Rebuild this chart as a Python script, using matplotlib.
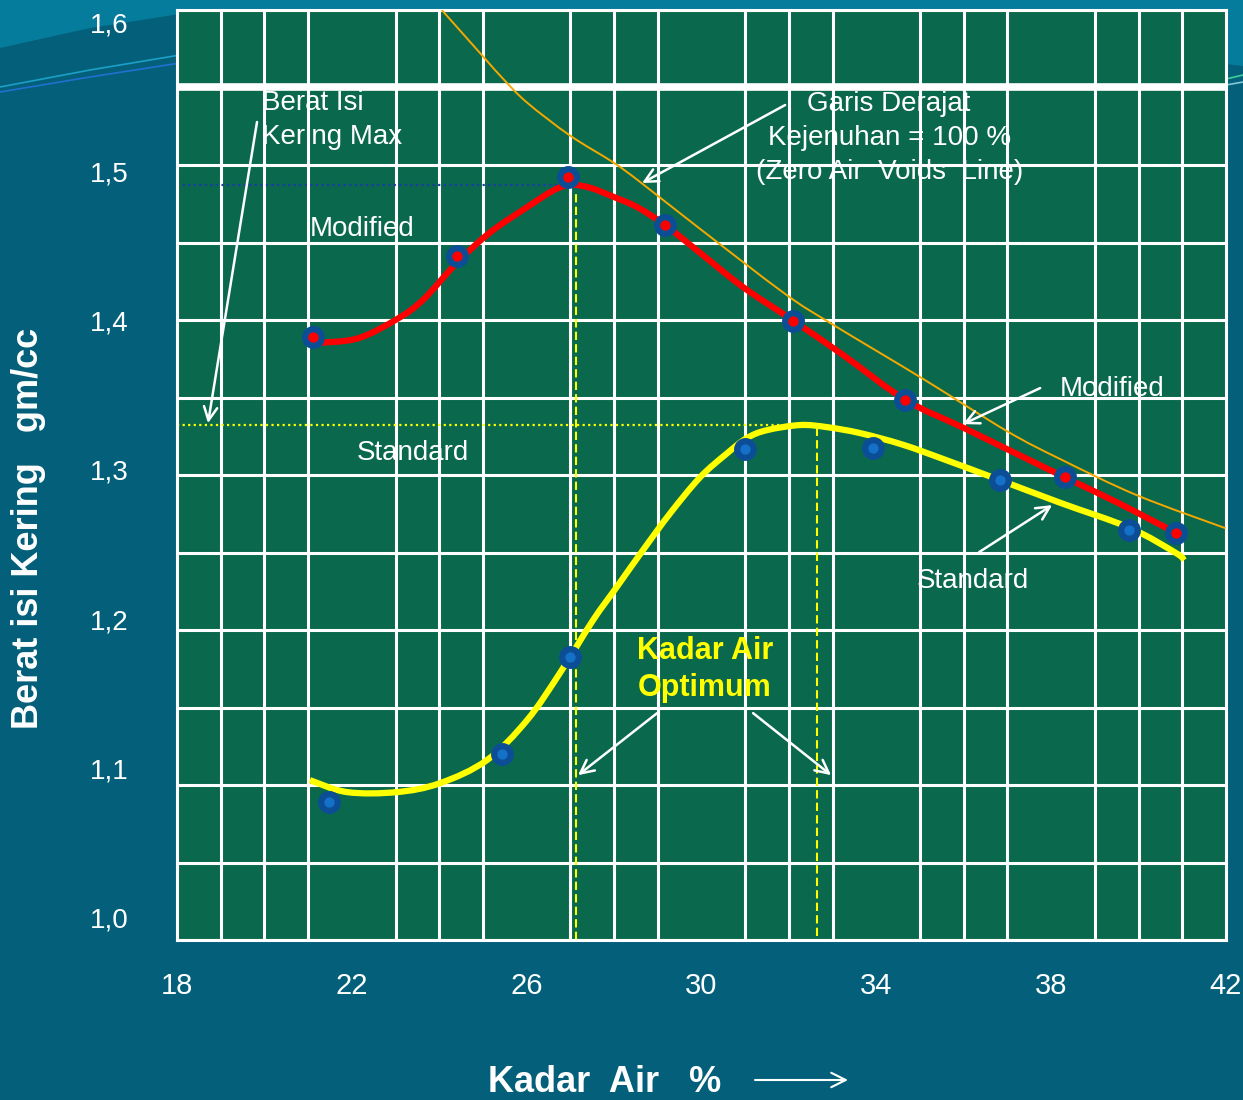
import numpy as np
import matplotlib
matplotlib.use("Agg")
import matplotlib.pyplot as plt
from matplotlib import font_manager
from matplotlib.lines import Line2D
from matplotlib.patches import Polygon, PathPatch
from matplotlib.path import Path

# ---------------- data ----------------
# Modified compaction: measured points
mod_x = [21.11, 24.41, 26.95, 29.17, 32.10, 34.66, 38.32, 40.86]
mod_y = [1.389, 1.443, 1.496, 1.464, 1.400, 1.347, 1.295, 1.258]
# Modified compaction: drawn curve
mod_curve_x = [21.11, 22.12, 23.03, 23.63, 24.41, 25.16, 26.01, 26.60, 26.99, 27.45,
               27.98, 28.53, 29.17, 29.90, 30.95, 32.10, 33.24, 34.66, 35.94, 36.99,
               38.32, 39.53, 40.86, 41.05]
mod_curve_y = [1.385, 1.388, 1.401, 1.414, 1.439, 1.459, 1.476, 1.487, 1.491, 1.489,
               1.483, 1.476, 1.464, 1.447, 1.4225, 1.400, 1.377, 1.347, 1.329, 1.314,
               1.295, 1.278, 1.258, 1.257]

# Standard compaction: measured points
std_x = [21.48, 25.44, 26.99, 31.00, 33.93, 36.83, 39.78]
std_y = [1.078, 1.110, 1.175, 1.314, 1.315, 1.293, 1.260]
# Standard compaction: drawn curve
std_curve_x = [21.04, 21.89, 23.03, 24.02, 25.09, 26.01, 26.76, 27.52, 28.07, 28.66,
               29.28, 29.97, 30.59, 31.04, 31.50, 32.26, 32.87, 33.63, 34.60, 35.60,
               36.83, 38.23, 39.81, 40.86, 41.04]
std_curve_y = [1.0923, 1.0843, 1.0843, 1.0903, 1.1057, 1.1325, 1.1640, 1.1995, 1.2220, 1.2463,
               1.2709, 1.2952, 1.3113, 1.3214, 1.3267, 1.3301, 1.3287, 1.3247, 1.3170, 1.3066,
               1.2932, 1.2778, 1.2611, 1.2443, 1.2396]

# Zero air voids line (S = 100 %)
zav_x = [24.06, 25.00, 25.46, 26.01, 26.99, 27.98, 28.59, 29.90, 31.91, 32.97,
         35.07, 36.99, 38.23, 39.97, 41.99]
zav_y = [1.608, 1.577, 1.562, 1.546, 1.524, 1.506, 1.493, 1.463, 1.418, 1.398,
         1.361, 1.326, 1.307, 1.283, 1.261]

# maxima / optimum moisture contents
mod_max_density = 1.491
std_max_density = 1.330
mod_omc = 27.13
std_omc = 32.65
upper_line = 1.5565

x_ticks = [18, 22, 26, 30, 34, 38, 42]
y_ticks = [1.0, 1.1, 1.2, 1.3, 1.4, 1.5, 1.6]
y_tick_labels = ["1,0", "1,1", "1,2", "1,3", "1,4", "1,5", "1,6"]
x_limits = (18, 42)
y_limits = (0.98526, 1.60804)

# ---------------- styling ----------------
W, H = 1243, 1100
names = {f.name for f in font_manager.fontManager.ttflist}
base_font = "Liberation Sans" if "Liberation Sans" in names else "DejaVu Sans"
narrow_font = "Liberation Sans Narrow" if "Liberation Sans Narrow" in names else base_font
narrow_size = 23 if narrow_font != base_font else 21
plt.rcParams["font.family"] = [base_font, "DejaVu Sans"]

BG = "#04607a"
BG_TOP = "#067c9c"
PLOT_BG = "#0a694c"
MK_EDGE = "#0b4e96"
MK_FACE_STD = "#1570c8"

fig = plt.figure(figsize=(W / 100, H / 100), dpi=100)
fig.patch.set_facecolor(BG)

def fp(x, y):
    return (x / W, 1 - y / H)

# decorative lighter band at the top and thin curved lines
band = Polygon([fp(0, 0), fp(0, 48), fp(90, 28), fp(180, 14), fp(1226, 64),
                fp(1243, 66), fp(1243, 0)], closed=True, transform=fig.transFigure,
               facecolor=BG_TOP, edgecolor="none", zorder=-5)
fig.patches.append(band)
for pts, col in [([(0, 87), (90, 70), (180, 55)], "#1aa0c8"),
                 ([(0, 92), (90, 77), (180, 63)], "#1f70d0"),
                 ([(1226, 79), (1243, 75)], "#3ccf9a"),
                 ([(1226, 85), (1243, 82)], "#7fc8d8")]:
    xs = [p[0] / W for p in pts]
    ys = [1 - p[1] / H for p in pts]
    fig.lines.append(Line2D(xs, ys, transform=fig.transFigure, color=col, lw=1.2, zorder=-4))

ax = fig.add_axes([177 / W, 160 / H, 1049 / W, 930 / H])
ax.set_zorder(1)
ax.set_facecolor(PLOT_BG)
ax.set_xlim(*x_limits)
ax.set_ylim(*y_limits)

# grid: every unit on x, 12 equal bands on y
ax.set_xticks(np.arange(x_limits[0], x_limits[1] + 1, 1), minor=True)
ax.set_yticks(np.linspace(y_limits[0], y_limits[1], 13), minor=True)
ax.grid(which="minor", color="white", lw=2.2)
ax.grid(which="major", visible=False)
ax.set_axisbelow(True)
ax.axhline(upper_line, color="white", lw=5.5, zorder=0.6)
for s in ax.spines.values():
    s.set_color("white")
    s.set_linewidth(2.2)

ax.set_xticks(x_ticks)
ax.set_xticklabels([str(v) for v in x_ticks], fontfamily=narrow_font, fontsize=narrow_size)
ax.set_yticks(y_ticks)
ax.set_yticklabels(y_tick_labels, fontsize=20)
ax.tick_params(which="both", length=0, colors="white")
ax.tick_params(axis="x", pad=23)
ax.tick_params(axis="y", pad=35)

# reference lines
ax.plot([x_limits[0], mod_x[2]], [mod_max_density, mod_max_density], color="#1a3ca8",
        lw=1.6, ls=(0, (1, 1.5)), zorder=2)
ax.plot([x_limits[0], 31.8], [std_max_density, std_max_density], color="#ffff00",
        lw=1.6, ls=(0, (1, 1.5)), zorder=2)
ax.plot([mod_omc, mod_omc], [y_limits[0], 1.486], color="#ffff00", lw=1.5,
        ls=(0, (4, 2)), zorder=2)
ax.plot([std_omc, std_omc], [0.988, std_max_density], color="#ffff00", lw=1.5,
        ls=(0, (4, 2)), zorder=2)


def smooth_path(xs, ys):
    """Catmull-Rom spline through the given points, drawn as cubic Bezier segments."""
    P = np.column_stack([xs, ys]).astype(float)
    n = len(P)
    verts = [P[0]]
    codes = [Path.MOVETO]
    for i in range(n - 1):
        p0 = P[i - 1] if i > 0 else P[i]
        p1, p2 = P[i], P[i + 1]
        p3 = P[i + 2] if i + 2 < n else P[i + 1]
        c1 = p1 + (p2 - p0) / 6.0
        c2 = p2 - (p3 - p1) / 6.0
        verts += [c1, c2, p2]
        codes += [Path.CURVE4] * 3
    return Path(verts, codes)


def draw_curve(xs, ys, color, lw, z):
    patch = PathPatch(smooth_path(xs, ys), facecolor="none", edgecolor=color, lw=lw,
                      capstyle="butt", joinstyle="round", zorder=z)
    ax.add_patch(patch)


# curves
draw_curve(zav_x, zav_y, "#f5a800", 1.4, 3)
draw_curve(mod_curve_x, mod_curve_y, "#ff0000", 4.5, 4)
draw_curve(std_curve_x, std_curve_y, "#ffff00", 4.5, 4)
ax.plot(mod_x, mod_y, ls="none", marker="o", ms=12, mew=4.5, mec=MK_EDGE, mfc="#ff0000", zorder=5)
ax.plot(std_x, std_y, ls="none", marker="o", ms=12, mew=4.5, mec=MK_EDGE, mfc=MK_FACE_STD, zorder=5)

# annotations
def px2d(x, y):
    return (18 + (x - 177) / 43.7, 1.6 - (y - 22) / 1493)

txt_kw = dict(color="white", fontsize=20, zorder=0.4)
ax.text(*px2d(262, 120), "Berat Isi\nKering Max", ha="left", va="center", linespacing=1.43, **txt_kw)
ax.text(*px2d(310, 229), "Modified", ha="left", va="center", **txt_kw)
ax.text(*px2d(357, 453), "Standard", ha="left", va="center", **txt_kw)
ax.text(*px2d(1060, 389), "Modified", ha="left", va="center", **txt_kw)
ax.text(*px2d(917, 581), "Standard", ha="left", va="center", **txt_kw)
ax.text(*px2d(889, 138), "Garis Derajat\nKejenuhan = 100 %\n(Zero Air  Voids  Line)",
        ha="center", va="center", linespacing=1.39, **txt_kw)
ax.text(*px2d(705, 669), "Kadar Air\nOptimum", ha="center", va="center", color="#ffff00",
        fontsize=22, fontweight="bold", linespacing=1.31, zorder=6)

arrows = [((257, 122), (208, 423)),
          ((785, 105), (642, 183)),
          ((1040, 388), (963, 424)),
          ((979, 552), (1052, 505)),
          ((657, 713), (578, 775)),
          ((753, 713), (831, 775))]
for start, tip in arrows:
    ax.annotate("", xy=px2d(*tip), xytext=px2d(*start),
                arrowprops=dict(arrowstyle="->", color="white", lw=1.8,
                                mutation_scale=24, shrinkA=0, shrinkB=0), zorder=6)

# axis labels
ax.set_ylabel("Berat isi Kering   gm/cc", color="white", fontsize=26, fontweight="bold",
              va="center")
ax.yaxis.set_label_coords((29 - 177) / 1049, (940 - 528) / 930)
ax.set_xlabel("Kadar  Air   %", color="white", fontsize=26, fontweight="bold", va="center")
ax.xaxis.set_label_coords((605 - 177) / 1049, (940 - 1082) / 930)
ax.annotate("", xy=fp(848, 1080), xytext=fp(755, 1080), xycoords="figure fraction",
            textcoords="figure fraction",
            arrowprops=dict(arrowstyle="->", color="white", lw=1.5, mutation_scale=26,
                            shrinkA=0, shrinkB=0))

fig.savefig("out.png", dpi=100, facecolor=fig.get_facecolor())
